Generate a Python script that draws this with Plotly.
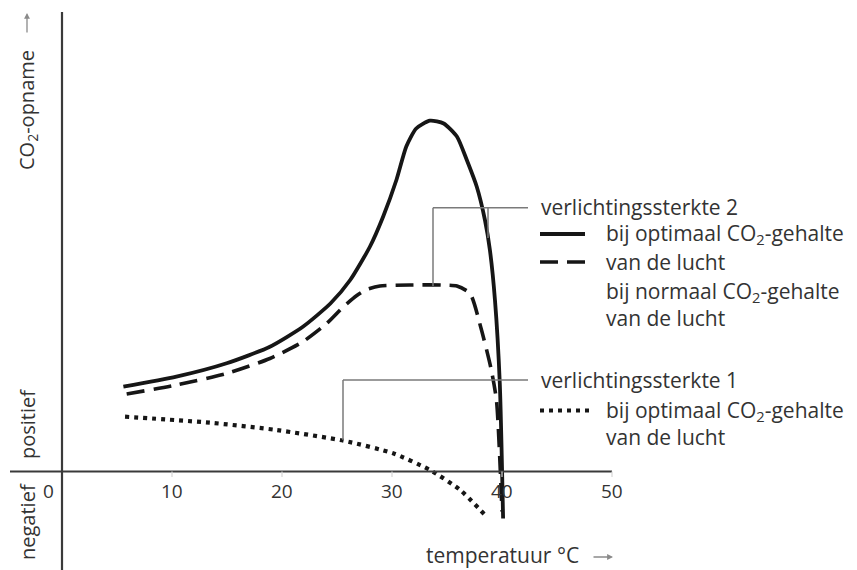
import plotly.graph_objects as go

# ---------------- data ----------------
x_ticks = [10, 20, 30, 40, 50]
x_tick_labels = ["10", "20", "30", "40", "50"]
zero_label = "0"

# verlichtingssterkte 2, optimaal CO2 (solid)
solid_x = [5.58, 10.4, 14.97, 18.9, 21.9, 24.4, 26.2, 28.0, 29.2, 30.4, 31.3, 32.2, 33.45,
           34.7, 35.9, 36.8, 37.7, 38.45, 38.9, 39.36, 39.8, 40.1]
solid_y = [8.48, 9.48, 10.82, 12.48, 14.48, 16.8, 19.15, 22.5, 25.5, 29.15, 32.5, 34.3, 35.08,
           34.8, 33.5, 31.15, 28.5, 25.15, 22.15, 17.15, 8.8, -4.7]

# verlichtingssterkte 2, normaal CO2 (dashed)
dash_x = [5.88, 10.4, 14.97, 18.9, 21.9, 24.06, 25.6, 26.8, 27.7, 28.9, 31.6, 34.5, 35.9,
          37.1, 38.1, 39.0, 39.5, 40.0]
dash_y = [7.75, 8.65, 9.8, 11.3, 12.98, 14.8, 16.5, 17.6, 18.2, 18.55, 18.65, 18.65, 18.55,
          17.8, 14.3, 10.3, 7.1, -4.0]

# verlichtingssterkte 1, optimaal CO2 (dotted)
dot_x = [5.73, 13.45, 19.5, 25.6, 30.1, 33.45, 36.2, 38.6]
dot_y = [5.48, 4.88, 4.15, 3.08, 1.82, 0.15, -1.85, -4.52]

# ---------------- figure ----------------
FONT = "Open Sans"
TXT = "#333333"
INK = "#161616"
GREY = "#7a7a7a"
DOTS = "4px,5px"

# pixel geometry helpers (x: 0 at px 62, 11 px per unit; y: 0 at px 471.5, 10 px per unit)
def px(p):
    return (p - 62) / 11.0

def py(p):
    return (471.5 - p) / 10.0

fig = go.Figure()

fig.add_trace(go.Scatter(x=solid_x, y=solid_y, mode="lines",
                         line=dict(color=INK, width=3.8, shape="spline", smoothing=0.6)))
fig.add_trace(go.Scatter(x=dash_x, y=dash_y, mode="lines",
                         line=dict(color=INK, width=3.6, shape="spline", smoothing=0.6,
                                   dash="18px,9px")))
fig.add_trace(go.Scatter(x=dot_x, y=dot_y, mode="lines",
                         line=dict(color=INK, width=4.2, shape="spline", smoothing=0.6,
                                   dash=DOTS)))

shapes = []
# axes
shapes.append(dict(type="line", x0=0, x1=0, y0=py(12), y1=py(570),
                   line=dict(color="#3a3a3a", width=2.2)))
shapes.append(dict(type="line", x0=px(10), x1=50, y0=0, y1=0,
                   line=dict(color="#3a3a3a", width=2.2)))
for t in x_ticks:
    shapes.append(dict(type="line", x0=t, x1=t, y0=0, y1=py(477),
                       line=dict(color="#d6d6d6", width=1.2)))

# leader lines
lead = dict(color=GREY, width=1.5)
shapes += [
    dict(type="line", x0=px(433), x1=px(528), y0=py(207.7), y1=py(207.7), line=lead),
    dict(type="line", x0=px(433), x1=px(433), y0=py(207.7), y1=py(286), line=lead),
    dict(type="line", x0=px(488), x1=px(488), y0=py(207.7), y1=py(238), line=lead),
    dict(type="line", x0=px(343), x1=px(528), y0=py(380), y1=py(380), line=lead),
    dict(type="line", x0=px(343), x1=px(343), y0=py(380), y1=py(440), line=lead),
]
# legend samples
shapes += [
    dict(type="line", x0=px(540), x1=px(585), y0=py(234), y1=py(234),
         line=dict(color=INK, width=3.8)),
    dict(type="line", x0=px(540), x1=px(585), y0=py(262), y1=py(262),
         line=dict(color=INK, width=3.6, dash="18px,9px")),
    dict(type="line", x0=px(540), x1=px(589), y0=py(410.5), y1=py(410.5),
         line=dict(color=INK, width=4.2, dash=DOTS)),
]

ann = []
def text(x, y, s, xanchor="left", angle=0, size=21, color=TXT):
    ann.append(dict(x=x, y=y, text=s, showarrow=False, xanchor=xanchor, yanchor="middle",
                    textangle=angle, borderpad=0,
                    font=dict(family=FONT, size=size, color=color)))

def arrow(x, y, ax, ay):
    ann.append(dict(x=x, y=y, ax=ax, ay=ay, text="", showarrow=True,
                    arrowhead=2, arrowsize=0.9, arrowwidth=1.3, arrowcolor="#8a8a8a"))

# tick labels
for t, lab in zip(x_ticks, x_tick_labels):
    text(t, py(491), lab, xanchor="center", size=19)
text(px(48), py(491), zero_label, xanchor="center", size=19)

# axis titles
text(px(425), py(555), "temperatuur °C", xanchor="left")
arrow(px(613), py(557), -21, 0)
text(px(27), py(110), "CO<sub>2</sub>-opname", xanchor="center", angle=-90, size=20)
arrow(px(27), py(13), 0, 21)
text(px(27), py(424), "positief", xanchor="center", angle=-90, size=20)
text(px(27), py(522), "negatief", xanchor="center", angle=-90, size=20)

# legend texts
text(px(540), py(207), "verlichtingssterkte 2")
text(px(605), py(234), "bij optimaal CO<sub>2</sub>-gehalte")
text(px(605), py(262), "van de lucht")
text(px(605), py(292), "bij normaal CO<sub>2</sub>-gehalte")
text(px(605), py(318), "van de lucht")
text(px(540), py(380), "verlichtingssterkte 1")
text(px(605), py(410.5), "bij optimaal CO<sub>2</sub>-gehalte")
text(px(605), py(437), "van de lucht")

fig.update_layout(
    width=857, height=570,
    margin=dict(l=0, r=0, t=0, b=0, pad=0),
    paper_bgcolor="white", plot_bgcolor="white",
    showlegend=False,
    xaxis=dict(range=[px(0), px(857)], visible=False, fixedrange=True),
    yaxis=dict(range=[py(570), py(0)], visible=False, fixedrange=True),
    shapes=shapes,
    annotations=ann,
)

fig.write_html(
    "out.html",
    config={"displayModeBar": False},
    post_script="document.body.style.margin='0';document.body.style.padding='0';"
                "document.body.style.overflow='hidden';",
)
